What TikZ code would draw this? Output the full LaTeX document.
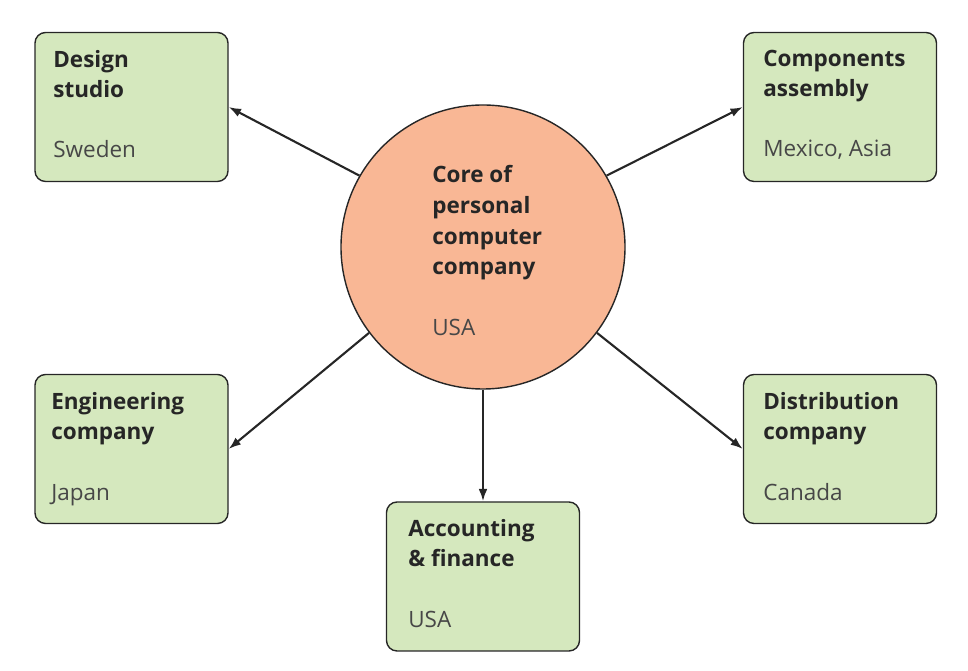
\documentclass[tikz,border=0pt]{standalone}
\usepackage{fontspec}
\setmainfont{Open Sans}
\usetikzlibrary{arrows.meta}
\definecolor{boxg}{HTML}{D5E8BE}
\definecolor{corec}{HTML}{F9B795}
\definecolor{ink}{HTML}{262626}
\begin{document}
\begin{tikzpicture}[x=0.02cm,y=-0.02cm,
  bx/.style={draw=ink,line width=0.8pt,fill=boxg,rounded corners=6pt,minimum width=193*0.02cm,minimum height=149*0.02cm,inner sep=0pt},
  ttl/.style={anchor=base west,font=\fontsize{12.8}{17.6}\selectfont\bfseries,text=ink,align=left,inner sep=0pt},
  sub/.style={anchor=base west,font=\fontsize{12.8}{17.6}\selectfont,text=ink!85,inner sep=0pt},
  arr/.style={-{Latex[length=7pt,width=5pt]},line width=1.2pt,draw=ink}]
\useasboundingbox (0,0) rectangle (968,671);
\node[bx] (ds) at (131.5,107) {};
\node[bx] (ca) at (840,107) {};
\node[bx] (ec) at (131.5,449) {};
\node[bx] (dc) at (840,449) {};
\node[bx] (af) at (483,576.5) {};
\node[draw=ink,line width=0.8pt,fill=corec,circle,minimum size=284*0.02cm,inner sep=0pt] (core) at (483,247) {};
\node[ttl] (t1) at (53,98) {Design\\studio};
\node[sub] (s1) at (53,158) {Sweden};
\node[ttl] (t2) at (763,97) {Components\\assembly};
\node[sub] (s2) at (763,157) {Mexico, Asia};
\node[ttl] (t3) at (51,440) {Engineering\\company};
\node[sub] (s3) at (51,501) {Japan};
\node[ttl] (t4) at (763,440) {Distribution\\company};
\node[sub] (s4) at (763,501) {Canada};
\node[ttl] (t5) at (408,567) {Accounting\\\& finance};
\node[sub] (s5) at (408,628) {USA};
\node[ttl] (t6) at (432,275) {Core of\\personal\\computer\\company};
\node[sub] (s6) at (432,336) {USA};
\draw[arr] (core.150) -- (ds.east);
\draw[arr] (core.30) -- (ca.west);
\draw[arr] (core.217) -- (ec.east);
\draw[arr] (core.323) -- (dc.west);
\draw[arr] (core.270) -- (af.north);
\end{tikzpicture}
\end{document}
